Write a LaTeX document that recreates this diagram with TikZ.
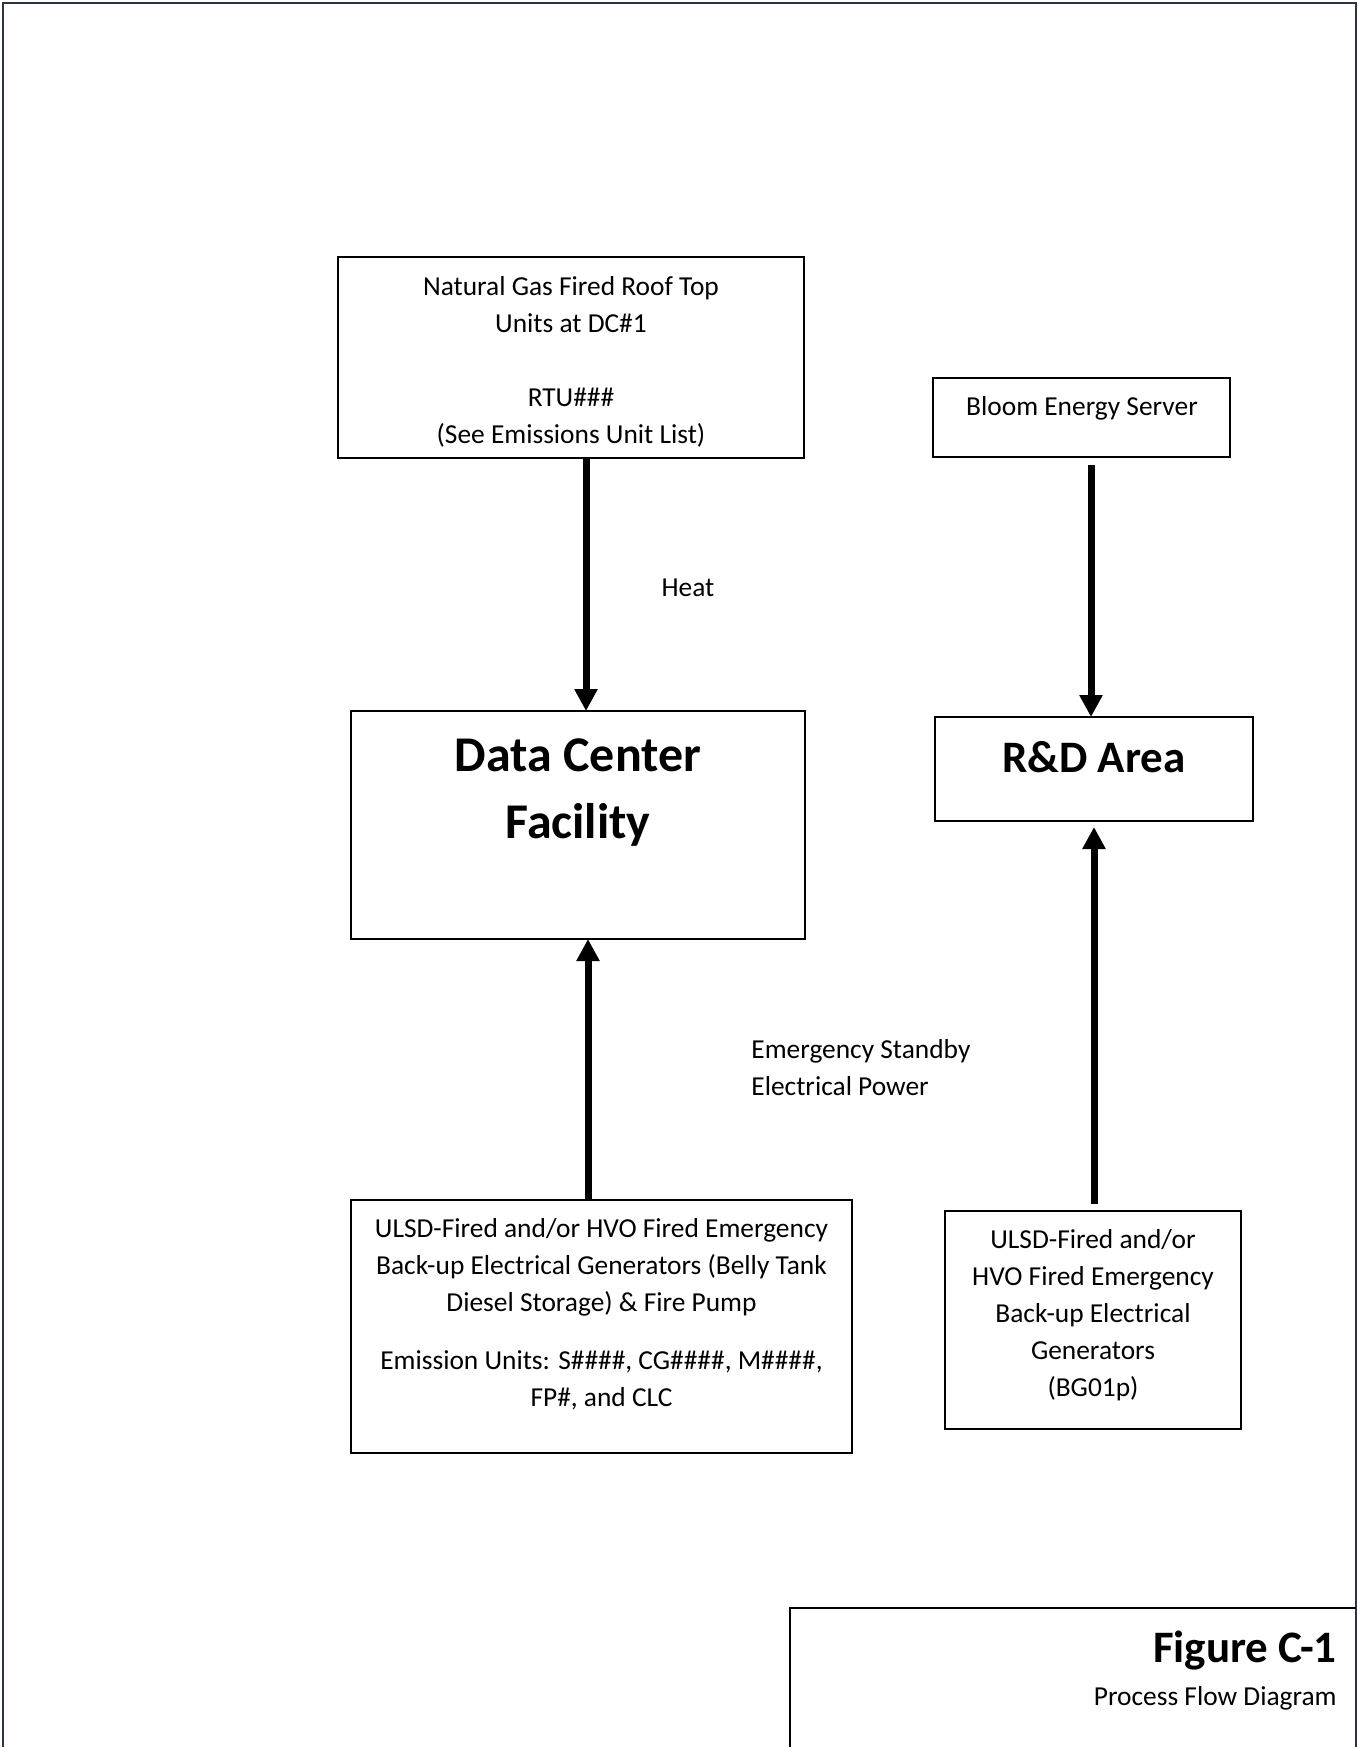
\documentclass[tikz,border=0pt]{standalone}
\usepackage{fontspec}
\setmainfont{Carlito}
\usetikzlibrary{arrows.meta}
\definecolor{framecol}{RGB}{45,52,72}
\tikzset{
  boxnode/.style={draw, line width=1pt, inner sep=0pt, outer sep=0pt},
  txt/.style={inner sep=0pt, align=center, font=\fontsize{13.7}{18.5}\selectfont},
  bigtxt/.style={inner sep=0pt, align=center, font=\fontsize{25}{33.5}\selectfont\bfseries},
  flowarrow/.style={line width=3.5pt, -{Triangle[width=11pt,length=11pt]}},
}
\begin{document}
\begin{tikzpicture}[x=0.5pt,y=-0.5pt]
\fill[white] (0,0) rectangle (1358,1747);
\useasboundingbox (0,0) rectangle (1358,1747);
% outer frame
\draw[framecol, line width=1.3pt] (3,1747) -- (3,3) -- (1356,3) -- (1356,1747);

% boxes
\node[boxnode, minimum width=233pt, minimum height=100.5pt] (rtu) at (571,357.5) {};
\node[boxnode, minimum width=148.5pt, minimum height=39.5pt] (bloom) at (1081.5,417.5) {};
\node[boxnode, minimum width=227pt, minimum height=114pt] (dc) at (578,825) {};
\node[boxnode, minimum width=159pt, minimum height=52pt] (rnd) at (1094,769) {};
\node[boxnode, minimum width=250.5pt, minimum height=126.5pt] (gen1) at (601.5,1326.5) {};
\node[boxnode, minimum width=148pt, minimum height=109pt] (gen2) at (1093,1320) {};

% box texts
\node[txt] (rtutxt) at (571,362) {Natural Gas Fired Roof Top\\Units at DC\#1\\[18.5pt]RTU\#\#\#\\(See Emissions Unit List)};
\node[txt] (bloomtxt) at (1082,408) {Bloom Energy Server};
\node[bigtxt] (dctxt) at (578,792.5) {Data Center\\Facility};
\node[txt, font=\fontsize{22.5}{27}\selectfont\bfseries] (rndtxt) at (1094,757) {R\&D Area};
\node[txt] (gen1txt) at (601.5,1314) {ULSD-Fired and/or HVO Fired Emergency\\Back-up Electrical Generators (Belly Tank\\Diesel Storage) \& Fire Pump\\[10.5pt]Emission Units: S\#\#\#\#, CG\#\#\#\#, M\#\#\#\#,\\FP\#, and CLC};
\node[txt] (gen2txt) at (1093,1315) {ULSD-Fired and/or\\HVO Fired Emergency\\Back-up Electrical\\Generators\\(BG01p)};

% connectors
\draw[flowarrow] ([xshift=7.5pt]rtu.south) -- ([xshift=7.5pt]rtu.south |- dc.north);
\draw[flowarrow, shorten <=4pt] ([xshift=4.75pt]bloom.south) -- ([xshift=4.75pt]bloom.south |- rnd.north);
\draw[flowarrow] ([xshift=-6.75pt]gen1.north) -- ([xshift=-6.75pt]gen1.north |- dc.south);
\draw[flowarrow, shorten <=3.5pt, shorten >=3pt] ([xshift=0.5pt]gen2.north) -- ([xshift=0.5pt]gen2.north |- rnd.south);

% connector labels
\node[txt] (heat) at (688,588) {Heat};
\node[txt, anchor=west, align=left] (emerg) at (751,1068) {Emergency Standby\\Electrical Power};

% title block
\coordinate (tbl) at (790,1747);
\coordinate (tbr) at (1356,1608);
\draw[line width=1pt] (tbl) |- (tbr);
\node[inner sep=0pt, anchor=east, font=\fontsize{22.5}{27}\selectfont\bfseries] (figno) at (1337,1651) {Figure C-1};
\node[txt, anchor=east] (figtitle) at (1337,1698) {Process Flow Diagram};
\end{tikzpicture}
\end{document}
